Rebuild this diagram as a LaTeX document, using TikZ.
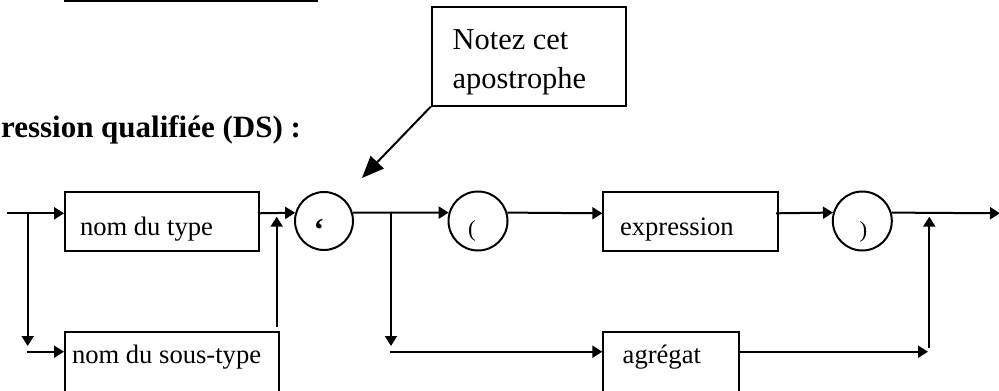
\documentclass[tikz,border=0pt]{standalone}
\usepackage{fontspec}
\setmainfont{Liberation Serif}
\usetikzlibrary{arrows.meta}
\begin{document}
\begin{tikzpicture}[x=0.5pt,y=-0.5pt,
  line width=1pt,
  arr/.style={-{Triangle[length=5pt,width=6pt]}},
  bigarr/.style={-{Triangle[length=11pt,width=9pt]}},
  boxn/.style={draw, rectangle, inner sep=0pt},
  circn/.style={draw, circle, inner sep=0pt},
  lbl/.style={inner sep=0pt, anchor=base west, font=\fontsize{13.3}{16}\selectfont},
  sym/.style={inner sep=0pt, anchor=base, font=\fontsize{11.5}{12}\selectfont},
  note/.style={inner sep=0pt, anchor=base west, font=\fontsize{15.2}{19}\selectfont},
]
\useasboundingbox (0,0) rectangle (999,390);
\clip (0,0) rectangle (999,390);

% title
\node[inner sep=0pt, anchor=base east, font=\fontsize{15.5}{18}\selectfont\bfseries] (title) at (302,137) {ression qualifiée (DS) :};

% partial top box
\node[boxn, minimum width=126pt, minimum height=30.5pt] (topbox) at (191,-29.5) {};

% callout
\node[boxn, minimum width=97pt, minimum height=49.2pt] (note) at (528.7,56.5) {};
\node[note] (note1) at (451.7,50) {Notez cet};
\node[note] (note2) at (451.7,89) {apostrophe};

% boxes
\node[boxn, minimum width=97.15pt, minimum height=29.65pt] (ntype) at (162.2,221.35) {};
\node[boxn, minimum width=107.15pt, minimum height=45pt] (nstype) at (172.15,376.7) {};
\node[boxn, minimum width=87.2pt, minimum height=29.65pt] (expr) at (690.5,221.35) {};
\node[boxn, minimum width=68pt, minimum height=45pt] (agr) at (671.3,376.7) {};

\node[lbl] (tntype) at (79,235) {nom du type};
\node[lbl] (tnstype) at (71,363) {nom du sous-type};
\node[lbl] (texpr) at (619,235) {expression};
\node[lbl] (tagr) at (621.7,363) {agrégat};

% circles
\node[circn, minimum size=29pt] (c1) at (324,221) {};
\node[circn, minimum size=29.5pt] (c2) at (478,221) {};
\node[circn, minimum size=29.5pt] (c3) at (862.3,221) {};
\node[sym, font=\fontsize{16}{16}\selectfont\bfseries] (q) at (319,240) {‘};
\node[sym] (lp) at (472,236) {(};
\node[sym] (rp) at (863.5,237) {)};

% coordinates
\coordinate (in) at (6.7,213.3);
\coordinate (j1) at (27.7,213.3);
\coordinate (j1d) at (27.7,346);
\coordinate (j1s) at (26.7,351.7);
\coordinate (u1b) at (276.7,327);
\coordinate (u1t) at (276.7,216.7);
\coordinate (j2) at (391,213.3);
\coordinate (j2d) at (391,346);
\coordinate (j2s) at (390,351.7);
\coordinate (out) at (1000,213.3);
\coordinate (m1) at (928,351.7);
\coordinate (u2b) at (929.3,348);
\coordinate (u2t) at (929.3,216.7);
\coordinate (tip) at (362,178);

% connectors
\draw[arr] (in) -- (ntype.west |- in);
\draw[arr] (j1) -- (j1d);
\draw[arr] (j1s) -- (nstype.west |- j1s);
\draw[arr] ([xshift=-1.3pt]ntype.east |- in) -- (c1.164);
\draw[arr] (u1b) -- (u1t);
\draw[arr] (c1.16) -- (c2.164);
\draw[arr] (j2) -- (j2d);
\draw[arr] (j2s) -- (agr.west |- j2s);
\draw[arr] (c2.16) -- (expr.west |- in);
\draw[arr] ([xshift=-1.3pt]expr.east |- in) -- (c3.164);
\draw[arr] (c3.16) -- (out);
\draw[arr] ([xshift=-1.3pt]agr.east |- m1) -- (m1);
\draw[arr] (u2b) -- (u2t);
\draw[bigarr] (note.south west) -- (tip);
\end{tikzpicture}
\end{document}
